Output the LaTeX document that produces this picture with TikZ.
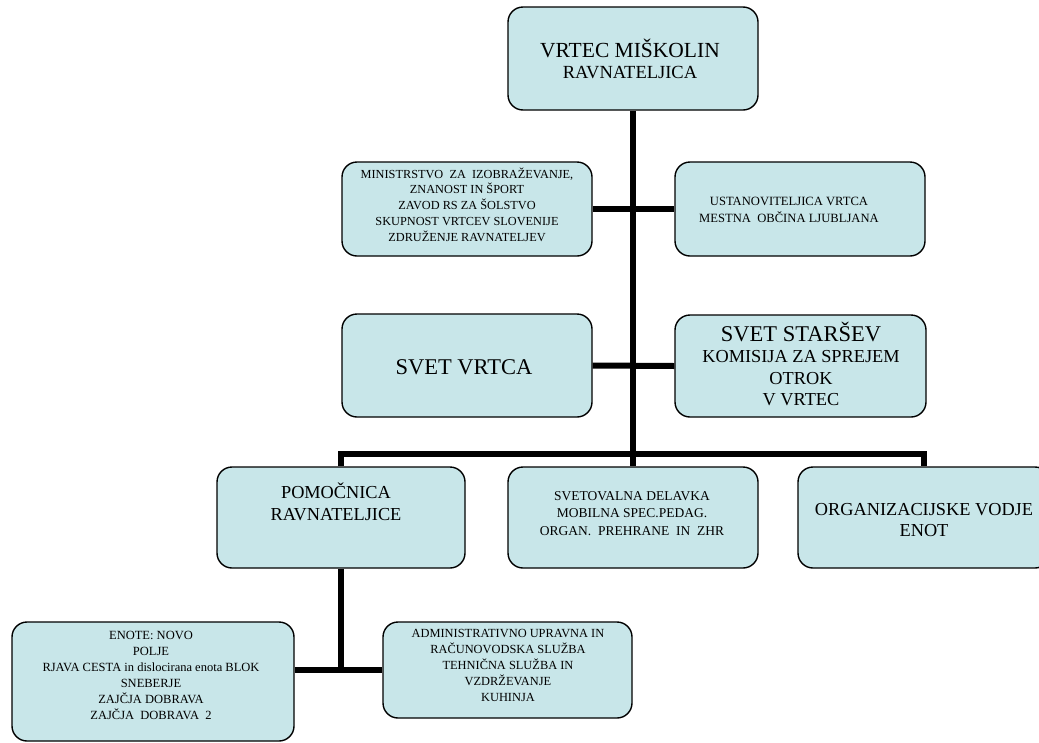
\documentclass[tikz,border=0pt]{standalone}
\usepackage{fontspec}
\setmainfont{Liberation Serif}
\definecolor{boxfill}{RGB}{200,230,233}
\newcommand\fs[1]{\fontsize{#1}{#1}\selectfont}
\newcommand\stk[3]{{\fs{#1}\baselineskip=#2pt\relax\lineskiplimit=-100pt\relax\vtop{\halign{\hfil##\hfil\cr#3\crcr}}}}
\tikzset{
  box/.style={draw=black, line width=1.4pt, fill=boxfill, rounded corners=15pt, inner sep=0pt},
  txt/.style={anchor=base, inner sep=0pt},
  conn/.style={line width=6pt, line join=miter, draw=black}
}
\begin{document}
\begin{tikzpicture}[x=1pt,y=-1pt]
\useasboundingbox (0,0) rectangle (1039,742);
% boxes
\node[box, minimum width=250pt, minimum height=103pt] (top) at (633,58.5) {};
\node[box, minimum width=250pt, minimum height=94pt]  (min) at (467,209) {};
\node[box, minimum width=250pt, minimum height=94pt]  (ust) at (800,209) {};
\node[box, minimum width=250pt, minimum height=103pt] (svv) at (467,365.5) {};
\node[box, minimum width=251pt, minimum height=102pt] (sst) at (800.5,366) {};
\node[box, minimum width=248pt, minimum height=101pt] (pom) at (341,517.5) {};
\node[box, minimum width=250pt, minimum height=101pt] (sve) at (633,517.5) {};
\node[box, minimum width=252pt, minimum height=101pt] (org) at (924,517.5) {};
\node[box, minimum width=282pt, minimum height=119pt] (eno) at (153,681.5) {};
\node[box, minimum width=249pt, minimum height=96pt]  (adm) at (507.5,670) {};
% connectors
\coordinate (brY) at (0,454);
\draw[conn] (top.south) -- (sve.north);
\draw[conn] (min.east) -- (ust.west);
\draw[conn] (svv.east) -- (sst.west);
\draw[conn] (pom.north) |- (brY -| org.north) -- (org.north);
\draw[conn] (pom.south) |- (adm.west);
\draw[conn] (eno.east |- adm.west) -- (pom.south |- adm.west);
% texts
\node[txt] (topT) at (630,57) {\stk{18.5}{21}{\fs{21.5}VRTEC MIŠKOLIN\cr RAVNATELJICA}};
\node[txt] (minT) at (467,178) {\stk{12.3}{15.75}{MINISTRSTVO~ ZA~ IZOBRAŽEVANJE,\cr ZNANOST IN ŠPORT\cr ZAVOD RS ZA ŠOLSTVO\cr SKUPNOST VRTCEV SLOVENIJE\cr ZDRUŽENJE RAVNATELJEV}};
\node[txt] (ustT) at (789,205) {\stk{12.6}{17}{USTANOVITELJICA VRTCA\cr MESTNA~ OBČINA LJUBLJANA}};
\node[txt] (svvT) at (464,374) {\stk{22.5}{22}{SVET VRTCA}};
\node[txt] (sstT) at (801,341) {\stk{18.3}{21.5}{\fs{22.5}SVET STARŠEV\cr KOMISIJA ZA SPREJEM\cr OTROK\cr V VRTEC}};
\node[txt] (pomT) at (336,498) {\stk{18.3}{22}{POMOČNICA\cr RAVNATELJICE}};
\node[txt] (sveT) at (632,500) {\stk{13.5}{17.5}{SVETOVALNA DELAVKA\cr MOBILNA SPEC.PEDAG.\cr ORGAN.~ PREHRANE~ IN~ ZHR}};
\node[txt] (orgT) at (924,515) {\stk{18.3}{21}{ORGANIZACIJSKE VODJE\cr ENOT}};
\node[txt] (enoT) at (151,639) {\stk{12.5}{16}{ENOTE: NOVO\cr POLJE\cr RJAVA CESTA in dislocirana enota BLOK\cr SNEBERJE\cr ZAJČJA DOBRAVA\cr ZAJČJA~ DOBRAVA~ 2}};
\node[txt] (admT) at (508,637) {\stk{12.4}{16}{ADMINISTRATIVNO UPRAVNA IN\cr RAČUNOVODSKA SLUŽBA\cr TEHNIČNA SLUŽBA IN\cr VZDRŽEVANJE\cr KUHINJA}};
\end{tikzpicture}
\end{document}
